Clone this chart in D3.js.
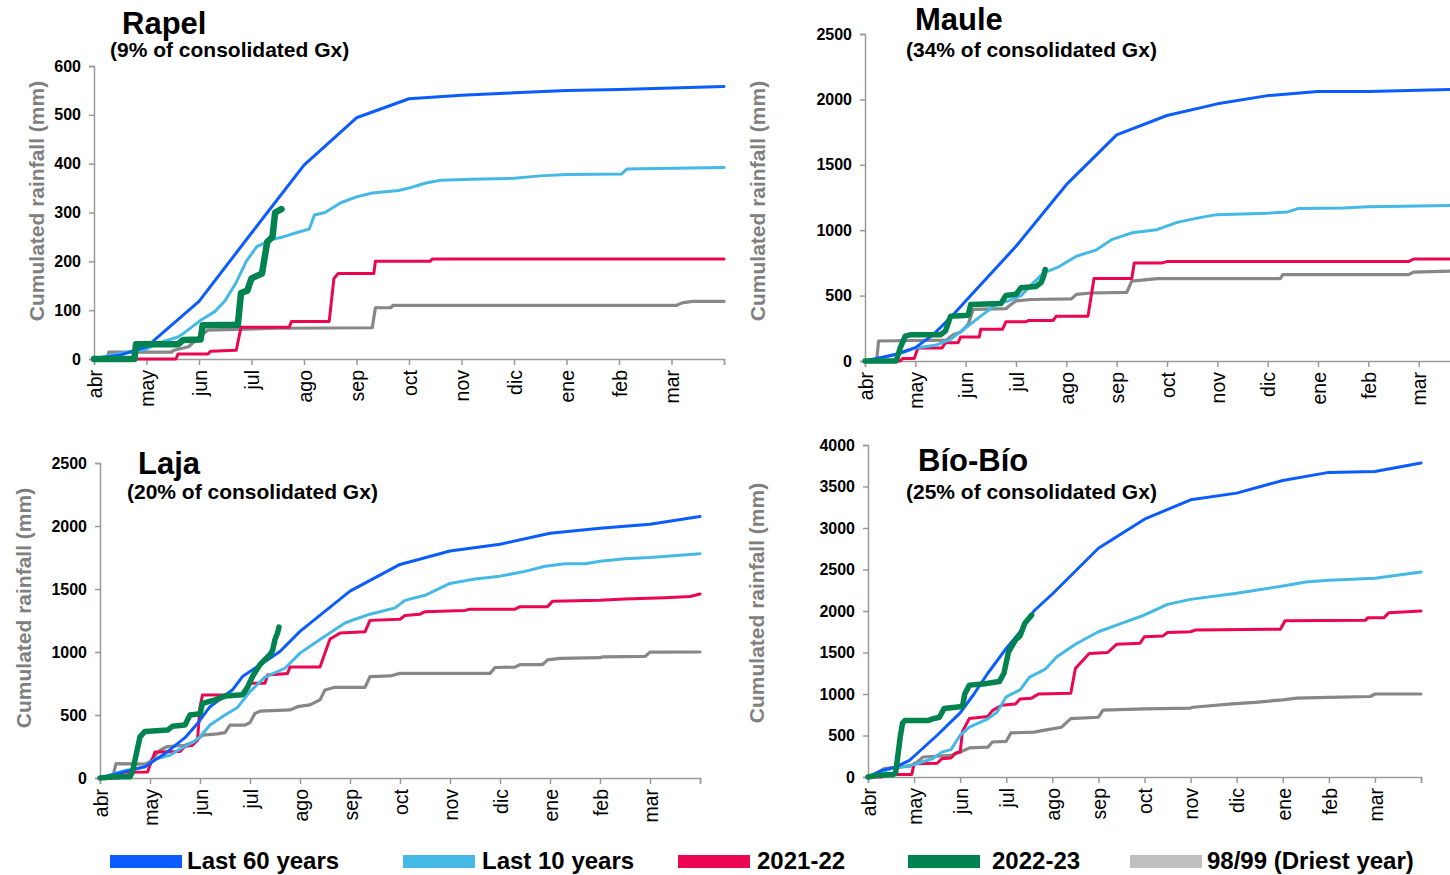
<!DOCTYPE html>
<html>
<head>
<meta charset="utf-8">
<script src="https://cdn.jsdelivr.net/npm/d3@7"></script>
<style>
  body { margin: 0; background: #fff; }
  svg { display: block; font-family: "Liberation Sans", Arial, sans-serif; }
</style>
</head>
<body>
<svg id="chart" width="1450" height="875"></svg>
<script>
// month labels (hydrological year, abr -> mar); x values are months since 1 abr
const months = ['abr','may','jun','jul','ago','sep','oct','nov','dic','ene','feb','mar'];

const seriesNames = ['Last 60 years','Last 10 years','2021-22','2022-23','98/99 (Driest year)'];

// ---- Rapel (mm)
const rapel60 = [[0,0],[0.5,8],[1,25],[2,118],[3,258],[4,397],[5,494],[6,533],[7,540],[8,545],[9,550],[10,552],[11,555],[12,558]];
const rapel10 = [[0,0],[0.4,10],[1,20],[1.2,32],[1.6,45],[1.7,52],[2.04,80],[2.3,97],[2.5,120],[2.7,155],[2.9,200],[3.1,230],[3.4,245],[3.6,250],[3.9,260],[4.1,266],[4.2,295],[4.4,300],[4.7,320],[5,332],[5.3,340],[5.8,345],[6,350],[6.3,360],[6.6,366],[7.2,368],[8,370],[8.5,375],[9,378],[10.05,379],[10.15,389],[12,392]];
const rapel2122 = [[0,0],[1.56,0],[1.6,10],[2.17,10],[2.22,16],[2.71,18],[2.8,65],[3.72,65],[3.76,77],[4.48,77],[4.57,165],[4.65,175],[5.33,175],[5.36,200],[6.4,200],[6.45,205],[12,205]];
const rapel2223 = [[0,0],[0.77,0],[0.8,30],[1.6,30],[1.7,39],[2.03,40],[2.07,69],[2.74,70],[2.8,135],[2.92,140],[3.0,165],[3.2,175],[3.3,240],[3.4,250],[3.45,300],[3.57,307]];
const rapel9899 = [[0,0],[0.26,0],[0.28,14],[1.48,14],[1.52,18],[1.8,25],[2.0,45],[2.17,59],[3.5,63],[5.3,64],[5.36,105],[5.65,105],[5.7,110],[11.1,110],[11.2,115],[11.4,118],[12,118]];

// ---- Maule (mm)
const maule60 = [[0,0],[0.6,50],[1,102],[1.35,200],[1.72,340],[2,458],[3,877],[4,1348],[5,1729],[6,1877],[7,1966],[8,2029],[9,2060],[10,2060],[11,2070],[12,2080]];
const maule10 = [[0,0],[0.4,30],[0.8,69],[1,100],[1.4,120],[1.7,165],[2,254],[2.3,343],[2.6,430],[2.85,460],[3.1,500],[3.3,580],[3.55,674],[3.85,720],[4.2,801],[4.6,850],[4.9,928],[5.3,980],[5.8,1004],[6.2,1060],[6.7,1100],[7,1119],[8,1130],[8.4,1140],[8.6,1165],[9.5,1170],[10,1180],[11,1185],[12,1190]];
const maule2122 = [[0,0],[0.7,0],[0.75,20],[0.98,20],[1.05,100],[1.53,100],[1.6,140],[1.85,140],[1.9,183],[2.27,183],[2.3,242],[2.73,242],[2.8,300],[3.2,300],[3.25,310],[3.74,310],[3.8,343],[4.43,343],[4.55,631],[5.3,631],[5.35,750],[5.9,750],[6.0,760],[10.8,760],[10.9,780],[12,780]];
const maule2223 = [[0,0],[0.62,0],[0.7,100],[0.8,190],[0.9,200],[1.5,200],[1.6,230],[1.7,343],[2.05,350],[2.1,432],[2.7,440],[2.8,500],[3.0,510],[3.1,560],[3.4,570],[3.5,600],[3.55,650],[3.58,700]];
const maule9899 = [[0,0],[0.23,0],[0.27,153],[1.62,160],[1.75,200],[1.9,220],[2.05,280],[2.15,394],[2.8,400],[2.9,432],[3.0,460],[3.3,470],[4.1,475],[4.2,509],[4.5,520],[5.2,525],[5.3,610],[5.8,630],[8.25,630],[8.3,660],[10.8,660],[10.9,680],[12,690]];

// ---- Laja (mm)
const laja60 = [[0,0],[0.9,90],[1.3,194],[1.7,320],[1.95,433],[2.2,566],[2.65,700],[2.85,805],[3.6,1004],[4,1164],[5,1483],[6,1695],[7,1801],[8,1855],[9,1942],[10,1982],[11,2014],[12,2075]];
const laja10 = [[0,0],[0.5,60],[0.9,88],[1.1,150],[1.4,180],[1.6,230],[1.85,280],[2,327],[2.2,420],[2.5,500],[2.75,560],[3,686],[3.3,800],[3.7,871],[4,991],[4.4,1100],[4.9,1230],[5.1,1260],[5.4,1300],[5.9,1350],[6.1,1410],[6.5,1450],[7,1544],[7.5,1580],[8,1602],[8.5,1640],[8.9,1680],[9.3,1700],[9.7,1700],[10,1720],[10.5,1740],[11,1750],[12,1780]];
const laja2122 = [[0,0],[0.4,0],[0.45,45],[0.95,48],[1.1,207],[1.6,210],[1.7,250],[1.85,260],[1.95,300],[2.0,561],[2.05,659],[2.9,660],[3.0,752],[3.3,752],[3.35,818],[3.75,830],[3.8,880],[4.4,880],[4.6,1103],[4.8,1150],[5.3,1160],[5.4,1251],[6.0,1260],[6.1,1290],[6.4,1300],[6.5,1320],[7.3,1330],[7.4,1340],[8.3,1340],[8.4,1360],[8.95,1360],[9.05,1403],[10,1410],[10.5,1420],[11.3,1430],[11.8,1440],[12,1460]];
const laja2223 = [[0,0],[0.3,10],[0.6,10],[0.65,50],[0.8,327],[0.9,370],[1.35,380],[1.45,410],[1.7,420],[1.8,500],[2.0,510],[2.05,592],[2.3,620],[2.5,650],[2.85,660],[2.95,720],[3.05,805],[3.2,900],[3.4,980],[3.45,1010],[3.5,1100],[3.55,1150],[3.58,1198]];
const laja9899 = [[0,0],[0.25,0],[0.32,114],[0.9,110],[1.0,130],[1.2,220],[1.35,250],[1.7,260],[1.9,290],[2.05,340],[2.35,350],[2.5,360],[2.6,420],[2.9,420],[3.0,440],[3.1,513],[3.2,530],[3.8,540],[3.95,566],[4.2,580],[4.4,620],[4.5,699],[4.7,720],[5.3,720],[5.4,805],[5.8,810],[6.0,830],[7.8,830],[7.9,877],[8.3,880],[8.4,900],[8.85,900],[8.95,938],[9.2,950],[10.0,955],[10.05,962],[10.9,965],[11.0,999],[12,1000]];

// ---- Bío-Bío (mm)
const bio60 = [[0,0],[0.3,80],[0.6,120],[0.9,201],[1,250],[1.5,503],[2,773],[2.3,1000],[2.6,1250],[3,1549],[3.3,1750],[3.6,2000],[4,2205],[5,2756],[6,3106],[7,3340],[8,3420],[9,3573],[10,3670],[11,3680],[12,3783]];
const bio10 = [[0,0],[0.5,100],[1,150],[1.4,220],[1.6,300],[1.8,330],[2,503],[2.2,600],[2.6,700],[2.8,780],[3,966],[3.3,1050],[3.5,1200],[3.85,1300],[4.1,1449],[4.5,1600],[5,1750],[5.5,1850],[6,1952],[6.5,2080],[7,2140],[8,2213],[9,2300],[9.5,2350],[10,2370],[11,2394],[12,2470]];
const bio2122 = [[0,0],[0.3,0],[0.4,30],[0.95,30],[1.0,161],[1.5,165],[1.6,220],[1.8,230],[1.9,290],[2.0,300],[2.05,550],[2.2,704],[2.6,730],[2.7,800],[2.9,865],[3.2,880],[3.3,940],[3.55,950],[3.7,1000],[4.4,1010],[4.5,1308],[4.8,1489],[5.2,1500],[5.4,1600],[5.9,1610],[6.0,1690],[6.4,1700],[6.5,1740],[7.0,1750],[7.1,1770],[8.95,1780],[9.05,1883],[10.8,1890],[10.85,1920],[11.2,1920],[11.3,1980],[12,2000]];
const bio2223 = [[0,0],[0.2,20],[0.55,30],[0.6,50],[0.7,483],[0.75,650],[0.8,680],[1.3,680],[1.4,700],[1.55,720],[1.65,825],[2.05,850],[2.1,1000],[2.2,1107],[2.5,1120],[2.85,1150],[2.95,1250],[3.05,1509],[3.2,1650],[3.3,1700],[3.4,1850],[3.55,1951]];
const bio9899 = [[0,0],[0.2,50],[0.35,100],[0.9,130],[1.0,150],[1.2,241],[1.8,260],[2.0,302],[2.2,350],[2.6,360],[2.7,422],[3.0,430],[3.1,531],[3.6,540],[3.9,570],[4.2,600],[4.4,704],[5.0,720],[5.1,805],[6.0,820],[7.0,830],[7.05,840],[7.9,880],[8.4,900],[9.0,930],[9.3,950],[10,960],[10.9,970],[11.0,1000],[12,1000]];

const titles = ['Rapel','Maule','Laja','Bío-Bío'];
const subtitles = ['(9% of consolidated Gx)','(34% of consolidated Gx)','(20% of consolidated Gx)','(25% of consolidated Gx)'];
const yMaxes = [600, 2500, 2500, 4000];
const yTickSteps = [100, 500, 500, 500];
const panelSeries = [
  [rapel60, rapel10, rapel2122, rapel2223, rapel9899],
  [maule60, maule10, maule2122, maule2223, maule9899],
  [laja60, laja10, laja2122, laja2223, laja9899],
  [bio60, bio10, bio2122, bio2223, bio9899]
];

// ---- styling / layout
const lineColors = ['#0b5cff', '#45b9e6', '#ec0651', '#00834f', '#878787'];
const swatchColors = ['#0b5cff', '#45b9e6', '#ec0651', '#00834f', '#bfbfbf'];
const greenWidths = [6.5, 5.5, 5.5, 5.5];
const drawOrder = [4, 2, 1, 0, 3];

const layouts = [
  {left: 94,  right: 724,  top: 66,  bottom: 359, titleX: 122, titleY: 34,  subX: 110, subY: 57,  yTitleX: 37,  yTitleY: 201},
  {left: 865, right: 1469, top: 34,  bottom: 361, titleX: 915, titleY: 30,  subX: 906, subY: 57,  yTitleX: 758, yTitleY: 201},
  {left: 100, right: 700,  top: 463, bottom: 778, titleX: 138, titleY: 474, subX: 127, subY: 499, yTitleX: 24,  yTitleY: 608},
  {left: 868, right: 1421, top: 445, bottom: 777, titleX: 918, titleY: 471, subX: 906, subY: 499, yTitleX: 757, yTitleY: 603}
];

const svg = d3.select('#chart');
const axisColor = '#9a9a9a';

layouts.forEach((L, p) => {
  const x = d3.scaleLinear().domain([0, 12]).range([L.left, L.right]);
  const y = d3.scaleLinear().domain([0, yMaxes[p]]).range([L.bottom, L.top]);
  const g = svg.append('g');

  // y axis
  const yAxis = d3.axisLeft(y)
    .tickValues(d3.range(0, yMaxes[p] + 1, yTickSteps[p]))
    .tickFormat(d3.format('d'))
    .tickSize(5).tickPadding(8);
  const ya = g.append('g').attr('transform', `translate(${L.left},0)`).call(yAxis);
  ya.select('.domain').attr('stroke', axisColor).attr('stroke-width', 1.5);
  ya.selectAll('.tick line').attr('stroke', axisColor).attr('stroke-width', 1.5);
  ya.selectAll('.tick text').attr('fill', '#000').style('font-size', '16px').style('font-weight', 'bold');

  // x axis
  const xAxis = d3.axisBottom(x).tickValues(d3.range(0, 13)).tickSize(6).tickFormat('');
  const xa = g.append('g').attr('transform', `translate(0,${L.bottom})`).call(xAxis);
  xa.select('.domain').attr('stroke', axisColor).attr('stroke-width', 1.5);
  xa.selectAll('.tick line').attr('stroke', axisColor).attr('stroke-width', 1.5);

  g.selectAll('text.month')
    .data(months)
    .enter().append('text')
    .attr('class', 'month')
    .attr('transform', (d, i) => `translate(${x(i) + 1},${L.bottom + 11}) rotate(-90)`)
    .attr('text-anchor', 'end')
    .attr('dy', '0.35em')
    .style('font-size', '19.5px')
    .attr('fill', '#000')
    .text(d => d);

  // y title
  g.append('text')
    .attr('transform', `translate(${L.yTitleX},${L.yTitleY}) rotate(-90)`)
    .attr('text-anchor', 'middle')
    .attr('dy', '0.35em')
    .style('font-size', '21px').style('font-weight', 'bold')
    .attr('fill', '#7f7f7f')
    .text('Cumulated rainfall (mm)');

  // titles
  g.append('text').attr('x', L.titleX).attr('y', L.titleY)
    .style('font-size', '31px').style('font-weight', 'bold').text(titles[p]);
  g.append('text').attr('x', L.subX).attr('y', L.subY)
    .style('font-size', '21px').style('font-weight', 'bold').text(subtitles[p]);

  // lines
  const line = d3.line().x(d => x(d[0])).y(d => y(d[1]));
  const widths = [3, 3, 3, greenWidths[p], 3.2];
  drawOrder.forEach(s => {
    g.append('path')
      .datum(panelSeries[p][s])
      .attr('d', line)
      .attr('fill', 'none')
      .attr('stroke', lineColors[s])
      .attr('stroke-width', widths[s])
      .attr('stroke-linejoin', 'round')
      .attr('stroke-linecap', 'round');
  });
});

// legend
const legendX = [110, 403, 678, 908, 1130];
const legendTextX = [187, 482, 757, 992, 1207];
const lg = svg.append('g');
seriesNames.forEach((name, i) => {
  lg.append('rect').attr('x', legendX[i]).attr('y', 855).attr('width', 72).attr('height', 13)
    .attr('fill', swatchColors[i]);
  lg.append('text').attr('x', legendTextX[i]).attr('y', 869)
    .style('font-size', '24px').style('font-weight', 'bold').text(name);
});
</script>
</body>
</html>
